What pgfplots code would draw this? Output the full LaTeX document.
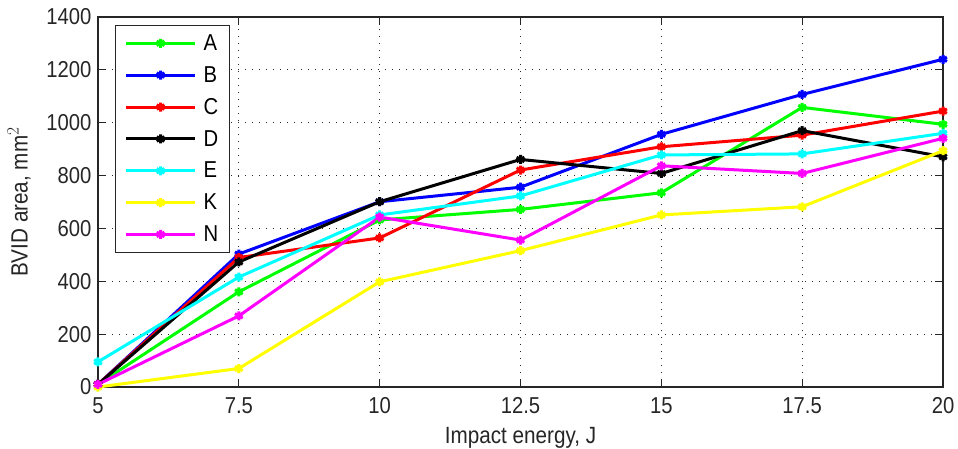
\documentclass[border=0pt]{standalone}
\usepackage{fontspec}
\setmainfont[FakeStretch=0.88]{Liberation Sans}
\usepackage{pgfplots}
\pgfplotsset{compat=1.18}
\definecolor{cA}{HTML}{00FF00}
\definecolor{cB}{HTML}{0000FF}
\definecolor{cC}{HTML}{FF0000}
\definecolor{cD}{HTML}{000000}
\definecolor{cE}{HTML}{00FFFF}
\definecolor{cK}{HTML}{FFFF00}
\definecolor{cN}{HTML}{FF00FF}
\definecolor{axgray}{HTML}{262626}

\begin{document}
\begin{tikzpicture}
\begin{axis}[
  name=ax, scale only axis,
  width=845pt, height=370pt,
  xmin=5, xmax=20, ymin=0, ymax=1400,
  xtick={5,7.5,10,12.5,15,17.5,20},
  ytick={0,200,400,600,800,1000,1200,1400},
  scaled ticks=false,
  /pgf/number format/1000 sep={},
  /pgf/number format/assume math mode=true,
  ticklabel style={font=\fontsize{23}{27}\selectfont, text=axgray},
  xticklabel style={yshift=-7pt},
  yticklabel style={xshift=-3pt},
  tick align=inside, major tick length=8pt,
  tick style={axgray, line width=1pt},
  axis line style={axgray, line width=1.2pt},
  grid=major,
  major grid style={black!85, line width=0.9pt, dash pattern=on 1pt off 6pt},
  xlabel={Impact energy, J},
  ylabel={BVID area, mm$^{2}$},
  label style={font=\fontsize{23.5}{27}\selectfont, text=axgray},
  xlabel style={at={(axis description cs:0.5,0)}, anchor=north, yshift=-37pt},
  ylabel style={at={(axis description cs:0,0.5)}, anchor=center, yshift=79pt},
  every axis plot/.append style={line width=3pt, mark=asterisk, mark size=4.5pt},
  legend style={at={(axis description cs:0,1)}, anchor=north west,
    xshift=17pt, yshift=-8pt, draw=axgray, line width=1.2pt,
    font=\fontsize{23}{27}\selectfont, row sep=10.5pt, column sep=5pt,
    inner xsep=9pt, inner ysep=7pt},
  legend cell align=left,
  legend image code/.code={\draw[mark repeat=2,mark phase=2,#1] plot coordinates {(0pt,0pt) (34.5pt,0pt) (69pt,0pt)};},
]
\addplot[cA] coordinates {(5,10)(7.5,360)(10,632)(12.5,672)(15,735)(17.5,1058)(20,994)};
\addlegendentry{A}
\addplot[cB] coordinates {(5,10)(7.5,503)(10,701)(12.5,756)(15,956)(17.5,1107)(20,1240)};
\addlegendentry{B}
\addplot[cC] coordinates {(5,10)(7.5,490)(10,564)(12.5,821)(15,909)(17.5,953)(20,1044)};
\addlegendentry{C}
\addplot[cD] coordinates {(5,10)(7.5,473)(10,701)(12.5,861)(15,808)(17.5,970)(20,871)};
\addlegendentry{D}
\addplot[cE] coordinates {(5,95)(7.5,416)(10,651)(12.5,723)(15,878)(17.5,882)(20,960)};
\addlegendentry{E}
\addplot[cK] coordinates {(5,0)(7.5,70)(10,398)(12.5,516)(15,651)(17.5,682)(20,894)};
\addlegendentry{K}
\addplot[cN] coordinates {(5,10)(7.5,269)(10,643)(12.5,556)(15,837)(17.5,808)(20,941)};
\addlegendentry{N}
\end{axis}
\pgfresetboundingbox
\path[use as bounding box] (-98pt,-61pt) rectangle (860pt,387pt);
\end{tikzpicture}
\end{document}
